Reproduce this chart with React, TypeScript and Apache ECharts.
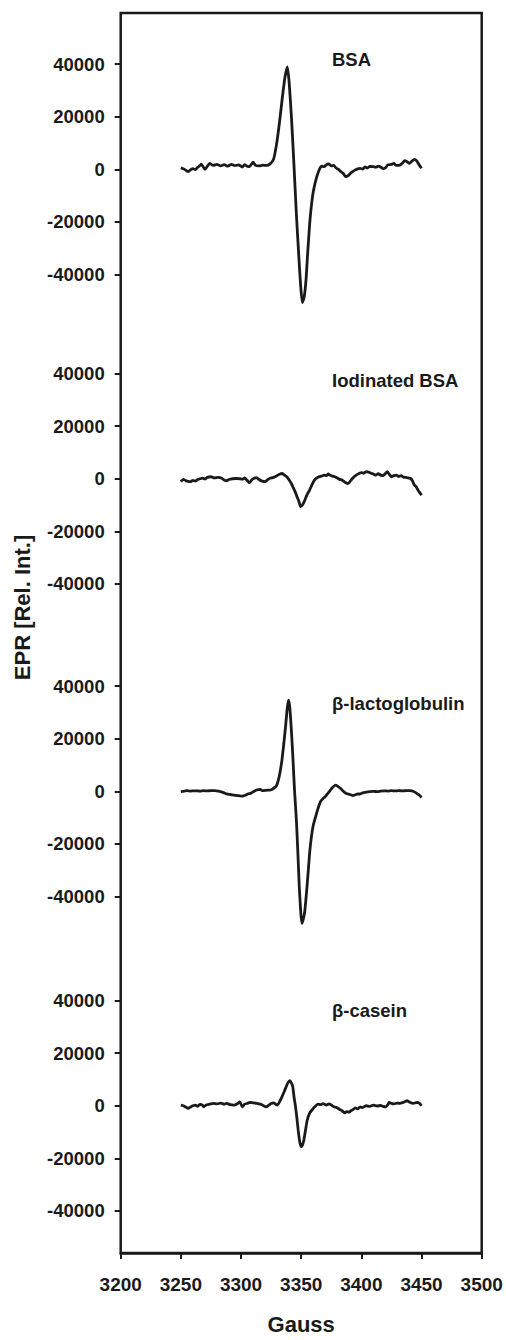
import React, { useEffect, useRef } from "react";
import * as echarts from "echarts";

const xTicks = [3200, 3250, 3300, 3350, 3400, 3450, 3500];
const yTickValues = [-40000, -20000, 0, 20000, 40000];
const panelLabels = ["BSA", "Iodinated BSA", "β-lactoglobulin", "β-casein"];

const bsaData: number[][] = [
  [3250,600],[3252,200],[3254,-300],[3256,-900],[3258,-200],[3260,300],[3262,-100],[3264,800],[3266,1500],[3267,2000],[3269,600],[3270,0],[3272,1200],[3274,2300],[3277,1500],[3280,1900],[3283,1300],[3286,1800],[3289,1200],[3292,1900],[3295,1400],[3298,1700],[3301,900],[3303,1800],[3305,1200],[3307,1000],[3310,2700],[3312,1500],[3315,1300],[3318,1600],[3321,1500],[3324,2000],[3327,3800],[3329.5,9500],[3332,18000],[3334,26000],[3336.5,35000],[3338.5,39000],[3340,33000],[3342,19000],[3344,1500],[3346,-17000],[3348,-33000],[3349.5,-44000],[3351,-50700],[3352.5,-48500],[3354,-42000],[3355.5,-31000],[3357.3,-19300],[3359.5,-10000],[3361.5,-5300],[3363.5,-2000],[3365.5,400],[3367,1200],[3369,1000],[3371,1800],[3373,2100],[3375,1300],[3377,1500],[3379,500],[3381,0],[3383,-900],[3385,-1600],[3387,-2800],[3389,-2400],[3391,-1500],[3393,-800],[3395,-200],[3397,200],[3399,400],[3401,100],[3403,900],[3405,500],[3407,1100],[3410,1000],[3412,800],[3414,1200],[3416,900],[3418,300],[3420,600],[3422,1700],[3425,1900],[3427,2300],[3429,1500],[3432,1600],[3434,2300],[3436,3300],[3438,2900],[3440,2300],[3442,3100],[3444,3800],[3446,3200],[3448,1700],[3450,400],
];

const iodinatedData: number[][] = [
  [3250,-1100],[3252,-250],[3254,-700],[3256,-1000],[3258,-1100],[3260,-600],[3262,-900],[3264,-300],[3266,0],[3268,200],[3270,-100],[3272,500],[3275,760],[3278,300],[3281,500],[3284,200],[3286,-500],[3288,-760],[3290,-300],[3293,0],[3296,100],[3299,0],[3301,-200],[3303,300],[3305,-600],[3307,-1500],[3309,-400],[3311,200],[3313,400],[3315,-300],[3317,-800],[3320,-1100],[3322,-400],[3324,200],[3327,500],[3330,1200],[3332,1700],[3334,2000],[3336,1400],[3338,760],[3340,-500],[3342,-2000],[3343.5,-3500],[3345,-5000],[3346.5,-6800],[3348,-8500],[3349.5,-10600],[3351,-10000],[3352.5,-8700],[3354,-7000],[3355.5,-5500],[3357,-4300],[3359,-2200],[3361,-500],[3363,300],[3365,800],[3367,1000],[3369,1400],[3371,1200],[3372.5,1800],[3374,1300],[3376,1000],[3378,760],[3380,300],[3382,-250],[3384,-500],[3386,-1200],[3388.5,-1800],[3390,-1400],[3392,-200],[3394,760],[3396,1500],[3398,2000],[3400,2300],[3402,2100],[3404,2700],[3406,2500],[3408,2100],[3410,1800],[3412,1400],[3414,1900],[3416,1400],[3418,1200],[3420,2000],[3421.5,2700],[3423,1800],[3425,760],[3427,1200],[3429,1400],[3431,900],[3433,1200],[3435,600],[3437,500],[3439,300],[3441,100],[3442.5,-800],[3444,-2400],[3445.5,-3000],[3447,-4300],[3448.5,-5300],[3450,-6200],
];

const lactoglobulinData: number[][] = [
  [3250,-100],[3253,100],[3255,250],[3258,100],[3261,200],[3264,150],[3266,100],[3269,250],[3272,150],[3275,300],[3278,250],[3281,100],[3283,-100],[3286,-600],[3288,-1000],[3291,-1200],[3294,-1400],[3297,-1600],[3300,-1800],[3302,-1700],[3304,-1400],[3306,-900],[3308,-760],[3310,-200],[3313,500],[3316,760],[3318,250],[3321,400],[3324,500],[3326,800],[3328,1500],[3329.5,2200],[3331,4300],[3332.5,7500],[3334,11900],[3335.5,18000],[3337,24600],[3338.5,32000],[3339.5,34700],[3340.5,32000],[3342,22000],[3343.2,11900],[3344.5,0],[3346,-10900],[3347.2,-23000],[3348.4,-36300],[3349.5,-45000],[3350.5,-50200],[3351.8,-48500],[3353,-45500],[3354.5,-38000],[3355.7,-31200],[3357,-23500],[3358.5,-17200],[3360,-13000],[3362,-9600],[3364,-6500],[3366,-3900],[3368,-2800],[3370,-2000],[3372,-900],[3374,300],[3376,1500],[3378.5,2400],[3380.5,1900],[3382.8,1100],[3385,0],[3387,-700],[3389,-1000],[3391,-1300],[3393,-1600],[3395,-1300],[3397,-1000],[3399,-1000],[3401,-600],[3404,-300],[3407,-100],[3410,0],[3413,-100],[3416,100],[3419,200],[3422,100],[3425,250],[3428,150],[3431,250],[3434,200],[3437,250],[3440,300],[3442,200],[3444,-200],[3446,-760],[3448,-1400],[3450,-2300],
];

const caseinData: number[][] = [
  [3250,250],[3252,0],[3254,-500],[3256,-1000],[3258,-500],[3260,0],[3262,200],[3264,-200],[3266,500],[3268,200],[3269,-400],[3271,300],[3274,600],[3277,900],[3280,700],[3283,1000],[3286,600],[3288,900],[3291,400],[3294,250],[3297,800],[3299,1500],[3301,-400],[3303,600],[3306,1000],[3307,1300],[3310,1100],[3313,900],[3316,630],[3318,200],[3321,-400],[3323,200],[3325,900],[3327,1100],[3330,250],[3332,1500],[3334,3400],[3336,5500],[3337.5,7200],[3339,8800],[3340.5,9500],[3342,8500],[3343,7200],[3344,3500],[3345.3,-400],[3346.5,-5000],[3347.5,-9300],[3348.7,-13500],[3350,-15600],[3351,-15000],[3352.2,-13100],[3353.5,-9500],[3355,-5500],[3357,-2800],[3359,-1600],[3361,-500],[3364,630],[3366,400],[3368,800],[3371,250],[3373,700],[3375,300],[3377,-400],[3379,-600],[3382,-1400],[3384,-1900],[3386,-2700],[3388,-2200],[3390,-2400],[3391,-2000],[3393,-1500],[3395,-800],[3397,-1200],[3399,-400],[3401,-700],[3404,0],[3407,-200],[3410,200],[3413,-100],[3416,100],[3418,-200],[3420,-400],[3422,400],[3423,1300],[3425,900],[3427,700],[3430,1000],[3432,900],[3435,1300],[3437,1700],[3438,1900],[3440,1400],[3443,900],[3445,1100],[3447,1300],[3449,600],[3450,0],
];

const panelData = [bsaData, iodinatedData, lactoglobulinData, caseinData];

const INK = "#1a1a1a";
const FONT = "'Liberation Sans', Arial, Helvetica, sans-serif";

export default function App() {
  const ref = useRef<HTMLDivElement>(null);

  useEffect(() => {
    if (!ref.current) return;
    const chart = echarts.init(ref.current, null, { renderer: "svg" });

    const gridLeft = 120.7;
    const gridRight = 24.3;
    const panelTops = [11.6, 321.0, 633.6, 948.0];
    const panelHeight = 315.5;
    const labelYs = [59, 380.7, 703, 1010];
    const plain = (v: number) => String(v);

    const grids: any[] = [
      {
        left: gridLeft,
        right: gridRight,
        top: 13,
        bottom: 79,
        show: true,
        borderColor: INK,
        borderWidth: 2.5,
        backgroundColor: "transparent",
      },
    ];
    const xAxes: any[] = [
      {
        gridIndex: 0,
        type: "value",
        min: 3200,
        max: 3500,
        interval: 50,
        axisLine: { show: true, lineStyle: { color: INK, width: 2.5 } },
        axisTick: { show: true, inside: false, length: 6, lineStyle: { color: INK, width: 2 } },
        axisLabel: {
          show: true,
          color: INK,
          fontSize: 19,
          fontWeight: "bold",
          fontFamily: FONT,
          margin: 22,
          formatter: plain,
          customValues: xTicks,
        },
        splitLine: { show: false },
        name: "Gauss",
        nameLocation: "middle",
        nameGap: 60,
        nameTextStyle: { color: INK, fontSize: 22, fontWeight: "bold", fontFamily: FONT },
      },
    ];
    const yAxes: any[] = [
      { gridIndex: 0, type: "value", min: 0, max: 1, show: false },
    ];
    const series: any[] = [];

    panelData.forEach((data, i) => {
      const gi = i + 1;
      grids.push({
        left: gridLeft,
        right: gridRight,
        top: panelTops[i],
        height: panelHeight,
        show: false,
      });
      xAxes.push({
        gridIndex: gi,
        type: "value",
        min: 3200,
        max: 3500,
        show: false,
      });
      yAxes.push({
        gridIndex: gi,
        type: "value",
        min: -60000,
        max: 60000,
        axisLine: { show: false },
        axisTick: {
          show: true,
          inside: false,
          length: 6,
          lineStyle: { color: INK, width: 2 },
          customValues: yTickValues,
        },
        axisLabel: {
          show: true,
          color: INK,
          fontSize: 18.5,
          fontWeight: "bold",
          fontFamily: FONT,
          margin: 16,
          formatter: plain,
          customValues: yTickValues,
        },
        splitLine: { show: false },
      });
      series.push({
        type: "line",
        xAxisIndex: gi,
        yAxisIndex: gi,
        data,
        showSymbol: false,
        smooth: 0.2,
        lineStyle: { color: INK, width: 2.8 },
        z: 3,
      });
    });

    const graphics: any[] = panelLabels.map((t, i) => ({
      type: "text",
      x: 332,
      y: labelYs[i],
      style: {
        text: t,
        fill: INK,
        fontSize: 18.5,
        fontWeight: "bold",
        fontFamily: FONT,
        textAlign: "left",
        textVerticalAlign: "middle",
      },
    }));
    graphics.push({
      type: "text",
      x: 22.5,
      y: 607.5,
      rotation: Math.PI / 2,
      style: {
        text: "EPR [Rel. Int.]",
        fill: INK,
        fontSize: 22,
        fontWeight: "bold",
        fontFamily: FONT,
        textAlign: "center",
        textVerticalAlign: "middle",
      },
    });

    chart.setOption({
      animation: false,
      backgroundColor: "#ffffff",
      grid: grids,
      xAxis: xAxes,
      yAxis: yAxes,
      series,
      graphic: graphics,
    });

    return () => chart.dispose();
  }, []);

  return (
    <div
      ref={ref}
      style={{ position: "absolute", left: 0, top: 0, width: 506, height: 1340 }}
    />
  );
}
